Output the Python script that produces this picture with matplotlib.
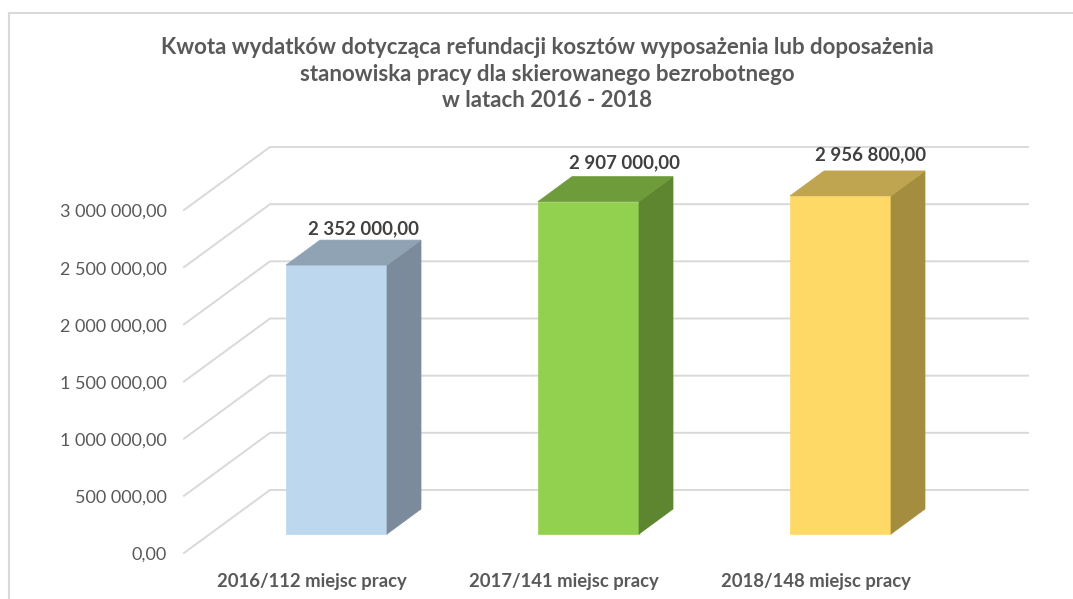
import matplotlib.pyplot as plt
from matplotlib.patches import Polygon

plt.rcParams['font.family'] = ['Lato', 'DejaVu Sans']

title = ("Kwota wydatków dotycząca refundacji kosztów wyposażenia lub doposażenia\n"
         "stanowiska pracy dla skierowanego bezrobotnego\n"
         "w latach 2016 - 2018")
categories = ["2016/112 miejsc pracy", "2017/141 miejsc pracy", "2018/148 miejsc pracy"]
values = [2352000, 2907000, 2956800]
ticks = [0, 500000, 1000000, 1500000, 2000000, 2500000, 3000000]

front_colors = ["#BDD7EE", "#92D050", "#FFD966"]
side_colors = ["#7B8B9B", "#5E8530", "#A58D40"]
top_colors = ["#8FA3B5", "#6F9C3A", "#BFA54F"]

# scale of the picture: 252 px per category, 343 px per 3 mln
px_x = 1 / 252
px_y = 3000000 / 343


def fmt(v):
    return f"{v:,.2f}".replace(",", " ").replace(".", ",")


fig = plt.figure(figsize=(10.73, 5.99), dpi=100)
ax = fig.add_axes([0, 0, 1, 1])
ax.set_xlim(-336.5 * px_x, (1073 - 336.5) * px_x)
ax.set_ylim((534 - 599) * px_y, 534 * px_y)
ax.axis("off")

# outer frame of the chart
ax.plot([(9 - 336.5) * px_x] * 2, [(534 - 599) * px_y, (534 - 13) * px_y], color="#D9D9D9", lw=1.5)
ax.plot([(9 - 336.5) * px_x, (1073 - 336.5) * px_x], [(534 - 13) * px_y] * 2, color="#D9D9D9", lw=1.5)

# gridlines: back wall and slanted floor part
x_front = (184 - 336.5) * px_x
x_back = (270 - 336.5) * px_x
x_end = (1028 - 336.5) * px_x
y_front = -19 * px_y
y_back = 44 * px_y
for t in ticks:
    ax.plot([x_front, x_back, x_end], [t + y_front, t + y_back, t + y_back],
            color="#D9D9D9", lw=1.4, zorder=1, solid_joinstyle="miter")
    ax.text((167 - 336.5) * px_x, t + y_front - 2 * px_y, fmt(t), ha="right", va="center",
            fontsize=13, color="#595959")

# bars
w = 50.5 * px_x
dx = 34 * px_x
dy = 25 * px_y
label_dx = [27, 36, 30]
label_dy = [36, 39, 41]
for i, v in enumerate(values):
    ax.add_patch(Polygon([(i - w, 0), (i + w, 0), (i + w, v), (i - w, v)],
                         fc=front_colors[i], ec=front_colors[i], lw=0.5, zorder=3))
    ax.add_patch(Polygon([(i + w, 0), (i + w + dx, dy), (i + w + dx, v + dy), (i + w, v)],
                         fc=side_colors[i], ec=side_colors[i], lw=0.5, zorder=3))
    ax.add_patch(Polygon([(i - w, v), (i + w, v), (i + w + dx, v + dy), (i - w + dx, v + dy)],
                         fc=top_colors[i], ec=top_colors[i], lw=0.5, zorder=3))
    ax.text(i + label_dx[i] * px_x, v + label_dy[i] * px_y, fmt(v), ha="center", va="center",
            fontsize=13.4, fontweight="bold", color="#404040", zorder=4)
    ax.text(i - 25 * px_x, -47 * px_y, categories[i], ha="center", va="center",
            fontsize=13.3, fontweight="bold", color="#595959")

ax.text((547 - 336.5) * px_x, (534 - 74) * px_y, title, ha="center", va="center",
        fontsize=16, fontweight="bold", color="#595959", linespacing=1.32)

fig.savefig("out.png", dpi=100)
